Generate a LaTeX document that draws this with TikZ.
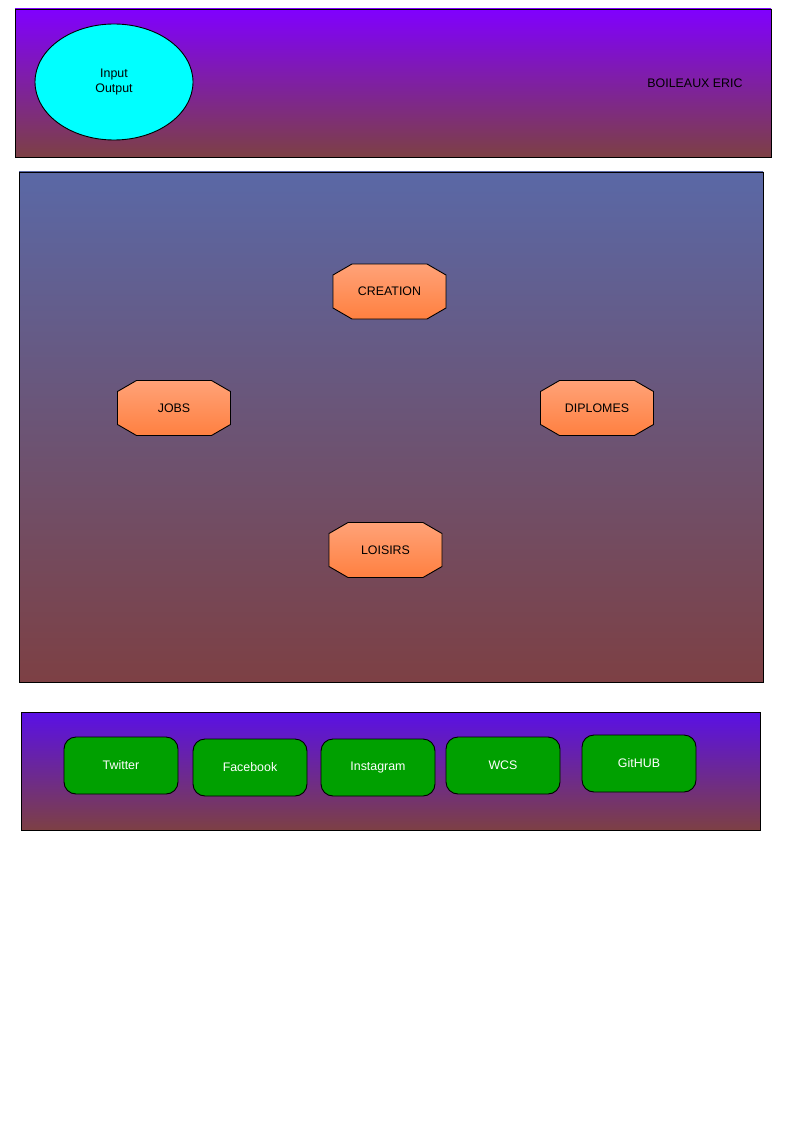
\documentclass[tikz,border=0pt]{standalone}
\usepackage{fontspec}
\setmainfont{Liberation Sans}
\usetikzlibrary{shapes.geometric}

\definecolor{violettop}{RGB}{128,0,255}
\definecolor{slatetop}{RGB}{90,104,166}
\definecolor{indigotop}{RGB}{90,16,230}
\definecolor{brownbottom}{RGB}{125,64,68}
\definecolor{salmonlight}{RGB}{255,162,120}
\definecolor{salmondark}{RGB}{255,128,64}
\definecolor{btngreen}{RGB}{0,160,0}
\definecolor{iocyan}{RGB}{0,255,255}

\begin{document}
\begin{tikzpicture}[x=1pt,y=-1pt,
    every node/.style={font=\fontsize{12.4}{14.5}\selectfont},
    octo/.style={draw=black, line width=0.9pt,
      top color=salmonlight, bottom color=salmondark},
    social/.style={rectangle, rounded corners=12pt, draw=black, line width=0.9pt,
      fill=btngreen, text=white, minimum width=114pt, minimum height=57pt}]
    \useasboundingbox (0,0) rectangle (794,1123);

    % header
    \draw[line width=0.9pt, top color=violettop, bottom color=brownbottom] (15,9) rectangle (771,157);
    \node[ellipse, draw=black, line width=0.9pt, fill=iocyan, minimum width=158pt,
      minimum height=116pt, align=center] (inout) at (114,82) {Input\\Output};
    \node (author) at (695,83) {BOILEAUX ERIC};

    % main panel
    \draw[line width=0.9pt, top color=slatetop, bottom color=brownbottom] (19,172) rectangle (763,682);
    \foreach \x/\y/\name/\txt in {389.5/291.5/creation/CREATION, 174/408/jobs/JOBS,
        597/408/diplomes/DIPLOMES, 385.5/550/loisirs/LOISIRS} {
      \draw[octo, shift={(\x,\y)}] (-37.5,-27.5) -- (37.5,-27.5) -- (56.5,-16.5) -- (56.5,16.5)
        -- (37.5,27.5) -- (-37.5,27.5) -- (-56.5,16.5) -- (-56.5,-16.5) -- cycle;
      \node (\name) at (\x,\y) {\txt};
    }

    % footer
    \draw[line width=0.9pt, top color=indigotop, bottom color=brownbottom] (21,712) rectangle (760,830);
    \foreach \x/\y/\name/\txt in {121/765.5/twitter/Twitter, 250/767.5/facebook/Facebook,
        378/767.5/instagram/Instagram, 503/765.5/wcs/WCS, 639/763.5/github/GitHUB} {
      \node[social] (\name) at (\x,\y) {\txt};
    }
\end{tikzpicture}
\end{document}
